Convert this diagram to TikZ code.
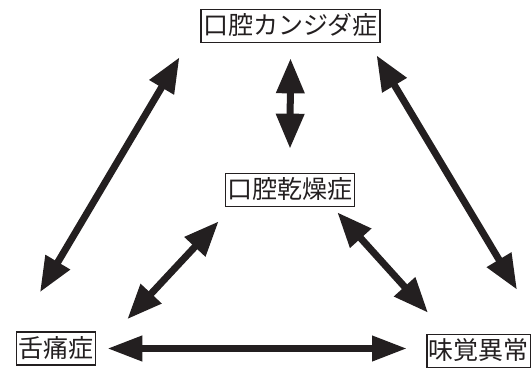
\documentclass[tikz,border=0pt]{standalone}
\usepackage{fontspec}
\newfontfamily\jpfont{Noto Sans CJK JP}
\usetikzlibrary{arrows.meta}
\definecolor{ink}{HTML}{231F20}
\begin{document}
\begin{tikzpicture}[x=1pt,y=-1pt,
  box/.style={draw=ink,line width=1.6pt,fill=white,inner xsep=2pt,inner ysep=4pt,
    text height=21pt,text depth=4pt,font=\jpfont\fontsize{25}{30}\selectfont,text=ink},
  dbl/.style={draw=ink,line width=7pt,{Triangle[length=35pt,width=27pt]}-{Triangle[length=35pt,width=27pt]},color=ink},
  dblh/.style={draw=ink,line width=7pt,{Triangle[length=35pt,width=24pt]}-{Triangle[length=35pt,width=24pt]},color=ink}]
\useasboundingbox (0,0) rectangle (531,369);
\node[box] (top) at (290.5,26) {口腔カンジダ症};
\node[box] (mid) at (290,190) {口腔乾燥症};
\node[box] (left) at (56,348.5) {舌痛症};
\node[box,anchor=west] (right) at (426,351) {味覚異常};
% connectors
\draw[dbl] ([shift={(-21,14)}]top.south west) -- ([shift={(-16,-39)}]left.north);
\draw[dbl] ([shift={(-4,12)}]top.south east) -- ([shift={(91,-44)}]right.north west);
\draw[dbl] ([yshift=-15pt]top.south) -- ([yshift=24pt]mid.north);
\draw[dbl] ([shift={(-6,14)}]mid.south west) -- ([shift={(31,-12)}]left.north east);
\draw[dbl] ([shift={(-18,5)}]mid.south east) -- ([shift={(2,-21)}]right.north west);
\draw[dblh] ([xshift=11pt]left.east) -- ([xshift=-19pt]left.east -| right.west);
\end{tikzpicture}
\end{document}
